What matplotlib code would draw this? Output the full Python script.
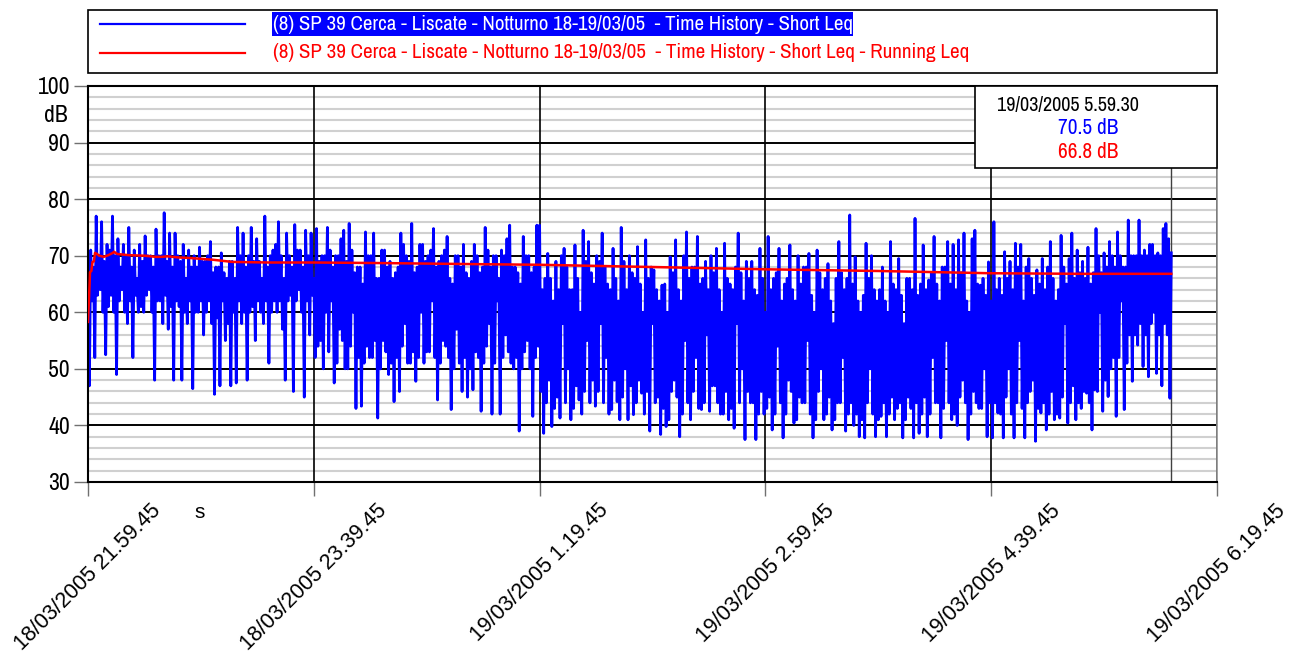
import matplotlib
matplotlib.use('Agg')
import matplotlib.pyplot as plt
import numpy as np
from matplotlib.patches import Rectangle
from matplotlib.lines import Line2D
from matplotlib import font_manager

# ---------------- data ----------------
title_blue = "(8) SP 39 Cerca - Liscate - Notturno 18-19/03/05  - Time History - Short Leq"
title_red = "(8) SP 39 Cerca - Liscate - Notturno 18-19/03/05  - Time History - Short Leq - Running Leq"

x_tick_minutes = [0, 100, 200, 300, 400, 500]
x_tick_labels = ["18/03/2005 21.59.45", "18/03/2005 23.39.45", "19/03/2005 1.19.45",
                 "19/03/2005 2.59.45", "19/03/2005 4.39.45", "19/03/2005 6.19.45"]
y_ticks = [30, 40, 50, 60, 70, 80, 90, 100]

cursor_minute = 479.75
cursor_label = "19/03/2005 5.59.30"
cursor_blue = "70.5 dB"
cursor_red = "66.8 dB"

# Short Leq (dB), one list per 100-minute block
blue_seg1 = [70, 47, 71, 62, 68, 52, 77, 63, 70, 64, 76, 60, 69, 52.5, 72, 61, 71, 63, 77, 60,
             70, 49, 73, 62, 68, 64, 72, 60, 70, 58, 75, 62, 68, 52, 71, 63, 66, 60, 72, 61,
             69, 60, 73.5, 63, 70, 64, 70, 60, 68, 48, 74.7, 62, 70, 62, 70, 58, 77.6, 63, 69, 57,
             74, 61, 68, 48, 74, 62, 70, 61, 69, 48, 72, 60, 66, 58, 71, 62, 68, 46.5, 70, 60,
             68, 60, 71.5, 62, 69, 56, 69, 60, 70, 62, 72.5, 58, 67, 45.5, 68, 59, 68, 47, 70.5, 62,
             67, 55, 66, 58, 69, 47, 69, 60, 66, 47.5, 75, 62, 70, 58, 74, 60, 68, 48, 70, 60,
             75, 61, 69, 55, 73, 62, 69, 60, 66, 58, 77, 62, 68, 51, 70, 60, 71, 62, 72, 60,
             76, 62, 70, 57, 66, 48, 74, 62, 70, 63, 68, 46, 75.5, 62, 71, 64, 71, 60, 68, 45,
             74.5, 62, 70, 56, 74, 63]
blue_seg2 = [66, 52, 74.8, 54, 69, 55, 70, 50, 70, 60, 75, 53, 71, 62, 68, 47.5, 70, 51, 70, 57,
             73, 55, 74.5, 50, 69, 50, 75.7, 54, 71, 60, 67, 43, 68, 52, 68, 43.4, 65, 51, 74.2, 54,
             70, 52, 70, 52, 74, 55, 66, 41.3, 66, 50, 71, 55, 71, 53, 68, 49, 69, 51, 66, 44.2,
             67, 52, 68, 46, 74, 54, 72, 58, 70, 51, 69, 51, 75.7, 53, 67, 47.8, 68, 52, 72, 60,
             72, 51, 69, 53, 70, 53, 71, 62, 74.8, 52, 68, 44.5, 69, 51, 70, 55, 71, 54, 73.4, 52,
             66, 42.8, 65, 50, 70, 57, 70, 51, 68, 46, 72, 52, 67, 45, 66, 50, 69, 46.3, 72, 53,
             70, 52, 67, 42.5, 68, 51, 75, 54, 71, 58, 68, 42, 70, 51, 70, 62, 66, 42, 71, 52,
             70, 56, 73, 53, 75.4, 51, 68, 50, 68, 52, 67, 39, 65, 50, 73.4, 53, 70, 55, 70, 50,
             67, 41.6, 68, 52, 75.4, 54]
blue_seg3 = [75.4, 46, 64, 38.6, 66, 44, 70.4, 48, 66, 39.8, 62, 43, 69, 45, 64, 41.3, 70, 58, 71.3, 44,
             68, 50, 64, 41, 64, 43, 71.9, 47, 66, 44.5, 60, 42, 74.5, 46, 69, 55, 72.5, 44, 67, 48,
             65, 43.4, 70, 46, 69, 58, 74, 44, 68, 52, 65, 42, 64, 42.8, 71.3, 48, 66, 44.2, 62, 41,
             75, 45, 69, 50, 64, 41, 70, 47, 67, 41.9, 66, 44, 71.6, 48, 65, 45.7, 60, 42, 72.8, 46,
             66, 39, 68, 58, 67.5, 44, 64, 45, 62, 38.4, 64.8, 43, 65, 39.8, 60, 41, 69.8, 46, 67, 48,
             72.8, 45, 64, 38, 62, 42, 70, 55, 74.2, 44, 66, 41, 68, 46, 68, 52, 73.4, 43, 65, 42.8,
             66, 44, 69, 56, 64, 42.5, 70, 47, 67, 47, 71.3, 44, 64, 42, 60, 42, 72.2, 46, 66, 41,
             65, 43, 64, 39.5, 68, 58, 74, 44, 67, 50, 62, 37.5, 69, 46, 66, 44, 69, 44, 64, 37.5,
             63, 42, 71.3, 46, 66, 42]
blue_seg4 = [60, 43, 73.4, 45, 64, 39.2, 66, 42, 67, 54, 71.3, 44, 62, 37.8, 65, 42, 66, 48, 71.9, 46,
             64, 40.4, 62, 41, 70, 45, 65, 44, 68, 44, 68, 55, 70.4, 42, 63, 37.8, 60, 41, 71, 46,
             67, 50, 64, 41, 66, 42, 68.6, 45, 62, 39.2, 58, 41, 66, 44, 72.5, 44, 67, 52, 64, 39,
             66, 42, 77.2, 44, 65, 40, 69.8, 42, 62, 38, 60, 41, 63, 37.8, 72.2, 44, 66, 50, 70, 42,
             64, 38, 62, 41, 64, 41.6, 68, 44, 62, 38, 60, 42, 72.5, 45, 65, 41, 64, 43, 69.5, 44,
             63, 37.8, 58, 41, 66, 45, 66, 43, 64, 37.8, 76.6, 44, 63, 38.6, 65, 42, 71.9, 45, 64, 38,
             65.7, 42, 67, 52, 73.4, 44, 65, 44, 62, 37.8, 68, 43, 68, 55, 72.5, 44, 65, 41, 72, 42,
             64, 40, 72.8, 45, 67, 48, 74, 44, 62, 37.5, 60, 42, 73, 46, 74.5, 44, 65, 43, 64.8, 43,
             66, 50, 63, 38, 68.9, 44]
blue_seg5 = [62, 37.8, 76, 44, 64, 42.2, 66, 42, 63, 37.8, 70.7, 45, 66, 50, 69, 42, 64, 37.8, 72.2, 44,
             68, 55, 72, 43, 62, 37.8, 68, 44, 69.5, 46, 66, 48, 63, 37.2, 67.5, 43, 65, 42.2, 69.5, 44,
             64, 39.2, 68, 42, 72.5, 46, 66, 41, 62, 42, 64, 41.3, 73.6, 45, 68, 58, 65, 40.4, 69.5, 44,
             74, 47, 66, 41, 71, 44, 67, 43, 69, 46, 66, 45.7, 71.5, 44, 65, 39.2, 67, 46.3, 74.8, 46,
             70, 60, 67, 42.5, 70.5, 48, 68, 45.1, 72.5, 50, 70, 52, 68, 41.6, 74.2, 52, 70, 62, 68, 42.8,
             68, 51, 76.3, 56, 70, 47.8, 70, 56, 70, 54.2, 76.3, 58, 70, 50.4, 71, 56, 70, 48.6, 72, 58,
             72, 60, 70, 49.2, 70.5, 56, 70, 47, 74.8, 58, 75.7, 56, 73, 44.8, 70.5]
block_starts = [0, 100, 200, 300, 400]

# Running Leq (minutes from start, dB)
red_minutes = [0, 0.5, 0.9, 1.5, 2.0, 2.6, 3.1, 4, 5, 7, 9, 11, 11.5, 13, 18, 25, 30, 33, 35, 40,
               45, 55, 64, 80, 100, 130, 174, 200, 250, 300, 350, 400, 440, 479.75]
red_values = [58.3, 63, 67.1, 67.3, 68.9, 69.0, 70.5, 70.3, 70.0, 69.8, 70.1, 70.5, 70.7, 70.3, 70.1, 70.0,
              69.8, 69.8, 69.9, 69.7, 69.6, 69.3, 68.9, 68.8, 68.8, 68.7, 68.5, 68.4, 68.0, 67.6, 67.3,
              66.9, 66.8, 66.8]

segs = [blue_seg1, blue_seg2, blue_seg3, blue_seg4, blue_seg5]
blue_minutes = []
blue_values = []
for k, seg in enumerate(segs):
    if k < 4:
        t = np.linspace(block_starts[k], block_starts[k] + 100, len(seg), endpoint=False)
    else:
        t = np.linspace(block_starts[k], cursor_minute, len(seg))
    blue_minutes.extend(t)
    blue_values.extend(seg)

# ---------------- fonts ----------------
names = {f.name for f in font_manager.fontManager.ttflist}
NARROW = 'Liberation Sans'
for cand in ['Liberation Sans Narrow', 'Archivo Narrow', 'PT Sans Narrow', 'Roboto Condensed',
             'IBM Plex Sans Condensed']:
    if cand in names:
        NARROW = cand
        break
REG = 'Liberation Sans'

W, H = 1299, 659
fig = plt.figure(figsize=(W / 100, H / 100), dpi=100)


def fx(x):
    return x / W


def fy(y):
    return 1 - y / H


ax = fig.add_axes([fx(88), fy(482), (1217 - 88) / W, (482 - 86) / H])
ax.set_xlim(0, 500)
ax.set_ylim(30, 100)

ax.set_yticks(y_ticks)
ax.set_xticks(x_tick_minutes)
ax.set_xticklabels(x_tick_labels, rotation=45, ha='center', va='top', fontfamily=REG, fontsize=15.5)
ax.set_yticklabels([str(v) for v in y_ticks], fontfamily=NARROW, fontsize=17)

for v in np.arange(30, 100, 2):
    if v % 10:
        ax.axhline(v, color='#d0d0d0', lw=1.5, zorder=0.3)
for v in y_ticks:
    ax.axhline(v, color='black', lw=1.4, zorder=0.5)
for m in x_tick_minutes:
    ax.axvline(m, color='black', lw=1.2, zorder=0.6)

ax.tick_params(which='major', length=10, width=1, color='#707070', direction='out', pad=3)
for s in ['left', 'bottom', 'top']:
    ax.spines[s].set_color('black')
    ax.spines[s].set_linewidth(1.5)
ax.spines['right'].set_color('#909090')
ax.spines['right'].set_linewidth(1.2)

ax.axvline(cursor_minute, color='#404040', lw=1.0, zorder=1.8)
ax.plot(blue_minutes, blue_values, color='#0000ff', lw=2.0, zorder=2)
ax.plot(red_minutes, red_values, color='#ff0000', lw=1.8, zorder=3)

# axis unit labels
fig.text(fx(68), fy(116), "dB", fontfamily=NARROW, fontsize=17, ha='right', va='center')
fig.text(fx(200), fy(512), "s", fontfamily=REG, fontsize=15, ha='center', va='center')

# ---------------- legend box ----------------
fig.patches.append(Rectangle((fx(88), fy(73)), (1217 - 88) / W, (73 - 10) / H, transform=fig.transFigure,
                             fc='white', ec='black', lw=1.2, zorder=5))
fig.lines.append(Line2D([fx(100), fx(245)], [fy(24), fy(24)], transform=fig.transFigure,
                        color='#0000ff', lw=1.6, zorder=6))
fig.lines.append(Line2D([fx(100), fx(245)], [fy(53), fy(53)], transform=fig.transFigure,
                        color='#ff0000', lw=1.6, zorder=6))
fig.patches.append(Rectangle((fx(272), fy(36)), (853 - 272) / W, (36 - 12) / H, transform=fig.transFigure,
                             fc='#0000ff', ec='none', zorder=6))
t_blue = fig.text(fx(273), fy(24), title_blue, color='white', fontfamily=NARROW, fontsize=16,
                  ha='left', va='center', zorder=7)
t_red = fig.text(fx(273), fy(52), title_red, color='#ff0000', fontfamily=NARROW, fontsize=16,
                 ha='left', va='center', zorder=7)

# ---------------- cursor box ----------------
fig.patches.append(Rectangle((fx(975), fy(168)), (1217 - 975) / W, (168 - 86) / H, transform=fig.transFigure,
                             fc='white', ec='black', lw=1.2, zorder=5))
t_c1 = fig.text(fx(997), fy(105), cursor_label, fontfamily=NARROW, fontsize=16, ha='left', va='center', zorder=7)
t_c2 = fig.text(fx(1088), fy(128), cursor_blue, color='#0000ff', fontfamily=NARROW, fontsize=16,
                ha='center', va='center', zorder=7)
t_c3 = fig.text(fx(1088), fy(152), cursor_red, color='#ff0000', fontfamily=NARROW, fontsize=16,
                ha='center', va='center', zorder=7)

fig.canvas.draw()
r = fig.canvas.get_renderer()


def fit(t, target):
    w = t.get_window_extent(r).width
    t.set_fontsize(t.get_fontsize() * target / w)


fit(t_blue, 580)
fit(t_red, 697)
fit(t_c1, 143)
fit(t_c2, 60)
fit(t_c3, 60)

fig.savefig('out.png', dpi=100, facecolor='white')
